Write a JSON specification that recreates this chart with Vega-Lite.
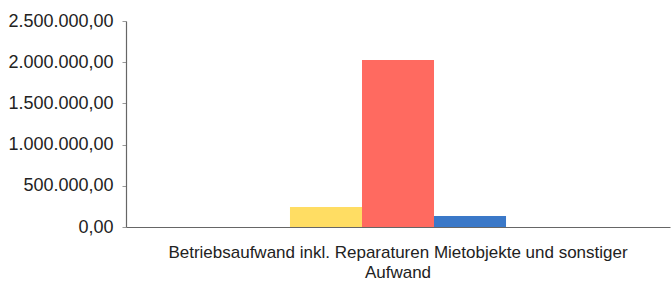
{
  "$schema": "https://vega.github.io/schema/vega-lite/v6.json",
  "width": 544,
  "height": 206,
  "autosize": {"type": "none"},
  "padding": {"left": 126, "top": 21, "right": 1, "bottom": 59},
  "background": "white",
  "config": {
    "locale": {"number": {"decimal": ",", "thousands": ".", "grouping": [3], "currency": ["", " €"]}},
    "view": {"stroke": null},
    "font": "Liberation Sans"
  },
  "data": {
    "values": [
      {"kategorie": "Betriebsaufwand inkl. Reparaturen Mietobjekte und sonstiger Aufwand", "serie": "A", "wert": 243000},
      {"kategorie": "Betriebsaufwand inkl. Reparaturen Mietobjekte und sonstiger Aufwand", "serie": "B", "wert": 2027000},
      {"kategorie": "Betriebsaufwand inkl. Reparaturen Mietobjekte und sonstiger Aufwand", "serie": "C", "wert": 133000}
    ]
  },
  "mark": {"type": "bar"},
  "encoding": {
    "x": {
      "field": "kategorie",
      "type": "nominal",
      "scale": {"paddingInner": 0, "paddingOuter": 0.759},
      "axis": {
        "title": null,
        "labelAngle": 0,
        "ticks": false,
        "domainColor": "#666666",
        "domainWidth": 1.2,
        "labelFontSize": 17,
        "labelColor": "#222222",
        "labelPadding": 17,
        "labelLineHeight": 20,
        "labelLimit": 0,
        "labelExpr": "[substring(datum.label,0,lastindexof(datum.label,' ')), substring(datum.label,lastindexof(datum.label,' ')+1)]"
      }
    },
    "xOffset": {"field": "serie", "type": "nominal", "scale": {"paddingInner": 0, "paddingOuter": 0}},
    "y": {
      "field": "wert",
      "type": "quantitative",
      "scale": {"domain": [0, 2500000], "nice": false},
      "axis": {
        "title": null,
        "format": ",.2f",
        "values": [0, 500000, 1000000, 1500000, 2000000, 2500000],
        "grid": false,
        "domainColor": "#666666",
        "domainWidth": 1.2,
        "tickColor": "#999999",
        "tickSize": 4,
        "labelPadding": 9,
        "labelFontSize": 18,
        "labelColor": "#222222"
      }
    },
    "color": {
      "field": "serie",
      "type": "nominal",
      "scale": {"domain": ["A", "B", "C"], "range": ["#FFDD63", "#FF6A60", "#3A78C8"]},
      "legend": null
    }
  }
}
